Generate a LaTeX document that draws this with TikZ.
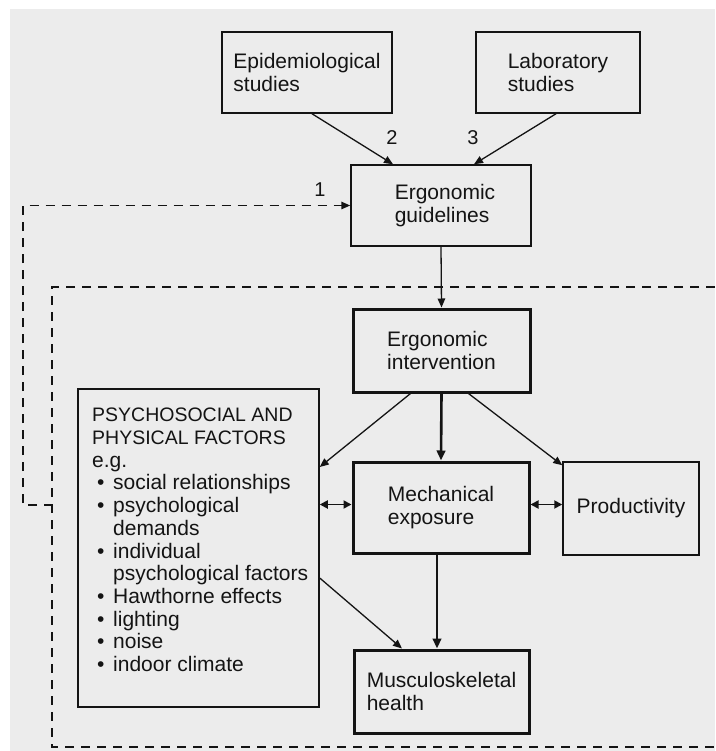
\documentclass[tikz,border=0pt]{standalone}
\usepackage{fontspec}
\setmainfont{Liberation Sans}
\usetikzlibrary{arrows.meta,calc}
\definecolor{paper}{RGB}{236,236,236}
\definecolor{ink}{RGB}{20,20,20}
\begin{document}
\begin{tikzpicture}[x=1pt,y=-1pt,
  every node/.style={font=\fontsize{21}{22.7}\selectfont, text=ink},
  thinbox/.style={draw=ink, line width=1.5pt, rectangle, inner sep=0pt, align=left},
  thickbox/.style={draw=ink, line width=3pt, rectangle, inner sep=0pt, align=left},
  conn/.style={draw=ink, line width=1.3pt, -{Triangle[length=9pt,width=7.5pt]}},
  thickconn/.style={draw=ink, line width=2.6pt, -{Triangle[length=10pt,width=8.5pt]}},
  dbl/.style={draw=ink, line width=1.8pt, {Triangle[length=8pt,width=8pt]}-{Triangle[length=8pt,width=8pt]}},
  dashline/.style={draw=ink, line width=1.5pt, dash pattern=on 9pt off 7pt},
  numlabel/.style={font=\fontsize{20}{21}\selectfont, inner sep=0pt},
]
\useasboundingbox (0,0) rectangle (715,751);
\fill[white] (0,0) rectangle (715,751);
\fill[paper] (10,9) rectangle (715,751);

% boxes
\node[thinbox, minimum width=170pt, minimum height=81pt] (epi) at (307,72.5) {Epidemiological\\studies};
\node[thinbox, minimum width=164pt, minimum height=81pt] (lab) at (558,72.5) {Laboratory\\studies};
\node[thinbox, minimum width=180pt, minimum height=81pt] (guide) at (441,205.5) {\hspace*{8pt}Ergonomic\\\hspace*{8pt}guidelines};
\node[thickbox, minimum width=177pt, minimum height=83pt] (interv) at (441.5,350.5) {Ergonomic\\intervention};
\node[thickbox, minimum width=176pt, minimum height=91pt] (mech) at (441,507.5) {Mechanical\\exposure};
\node[thinbox, minimum width=136pt, minimum height=93pt] (prod) at (631,508.5) {Productivity};
\node[thickbox, minimum width=175pt, minimum height=83pt] (musc) at (441.5,691.5) {Musculoskeletal\\health};
\node[thinbox, minimum width=241pt, minimum height=318pt] (psych) at (198.5,548) {};
\node[inner sep=0pt, anchor=north west, align=left] (psychtext) at (92,408)
  {{\fontsize{19.5}{22.7}\selectfont PSYCHOSOCIAL AND}\\
   {\fontsize{19.5}{22.7}\selectfont PHYSICAL FACTORS}\\
   e.g.\\
   \makebox[21pt][l]{\hspace{5pt}•}social relationships\\
   \makebox[21pt][l]{\hspace{5pt}•}psychological\\
   \hspace*{21pt}demands\\
   \makebox[21pt][l]{\hspace{5pt}•}individual\\
   \hspace*{21pt}psychological factors\\
   \makebox[21pt][l]{\hspace{5pt}•}Hawthorne effects\\
   \makebox[21pt][l]{\hspace{5pt}•}lighting\\
   \makebox[21pt][l]{\hspace{5pt}•}noise\\
   \makebox[21pt][l]{\hspace{5pt}•}indoor climate};

% number labels
\node[numlabel] (n1) at (320,190) {1};
\node[numlabel] (n2) at (392,138) {2};
\node[numlabel] (n3) at (473,138) {3};

% dashed feedback loop
\coordinate (fbstart) at (53,505);
\coordinate (fbbottom) at (23,505);
\coordinate (fbtop) at (23,205.5);
\draw[dashline, -{Triangle[length=9pt,width=7.5pt]}] (fbstart) -- (fbbottom) -- (fbtop) -- (guide.west);

% dashed intervention frame
\coordinate (frtr) at (715,287);
\coordinate (frtl) at (52,287);
\coordinate (frbl) at (52,747);
\coordinate (frbr) at (715,747);
\draw[dashline] (frtr) -- (frtl) -- (frbl) -- (frbr);

% connectors
\draw[conn] ([xshift=5pt]epi.south) -- ([xshift=-48pt]guide.north);
\draw[conn] ([xshift=-2pt]lab.south) -- ([xshift=33pt]guide.north);
\draw[conn] (guide.south) -- (interv.north);
\draw[conn] ([xshift=-31pt]interv.south) -- ([yshift=81pt]psych.east);
\draw[thickconn] (interv.south) -- (mech.north);
\draw[conn] ([xshift=27pt]interv.south) -- ([yshift=-4pt]prod.north west);
\draw[dbl] ([yshift=3pt]psych.east |- mech.west) -- ([yshift=3pt]mech.west);
\draw[dbl] ([yshift=3pt]mech.east) -- ([yshift=3pt]mech.east -| prod.west);
\draw[thickconn] ([xshift=-4pt]mech.south) -- ([xshift=-4.5pt]musc.north);
\draw[conn] ([yshift=-30pt]psych.east) -- ([xshift=-39.5pt]musc.north);
\end{tikzpicture}
\end{document}
